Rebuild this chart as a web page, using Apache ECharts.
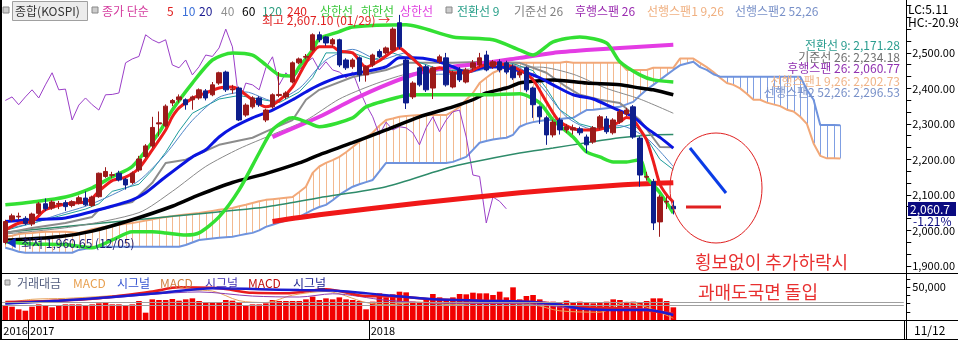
<!DOCTYPE html>
<html><head><meta charset="utf-8">
<script src="https://cdn.jsdelivr.net/npm/echarts@6/dist/echarts.min.js"></script>
<style>html,body{margin:0;padding:0;background:#fff}#c{width:958px;height:340px}</style>
</head><body><div id="c"></div>
<script>
// ---------- data (weekly KOSPI) ----------
// [open, close, low, high]
const candles = [
[1966,2025,1960.65,2030],[2030,2041,2025,2047],[2038,2040,2030,2050],[2034,2020,2015,2040],[2018,2046,2012,2050],
[2048,2075,2044,2080],[2075,2061,2055,2090],[2063,2080,2058,2085],[2074,2076,2060,2083],[2078,2067,2055,2085],
[2070,2081,2065,2085],[2077,2092,2073,2098],[2091,2072,2068,2110],[2070,2094,2066,2098],[2095,2161,2092,2163],
[2152,2166,2148,2178],[2155,2157,2148,2165],[2161,2142,2138,2168],[2144,2128,2115,2148],[2135,2161,2130,2166],
[2170,2201,2165,2210],[2208,2238,2204,2243],[2238,2290,2232,2320],[2300,2303,2265,2335],[2295,2350,2290,2355],
[2359,2366,2350,2370],[2368,2376,2360,2383],[2368,2354,2340,2372],[2368,2376,2340,2380],[2373,2396,2368,2400],
[2393,2373,2366,2398],[2382,2410,2378,2418],[2415,2444,2410,2447],[2446,2396,2390,2450],[2396,2398,2385,2410],
[2401,2311,2308,2405],[2325,2353,2320,2358],[2348,2373,2343,2378],[2373,2354,2348,2378],[2311,2339,2305,2343],
[2348,2382,2343,2386],[2380,2383,2375,2446],[2376,2387,2370,2392],[2418,2472,2414,2476],[2472,2483,2468,2487],
[2488,2490,2482,2497],[2508,2551,2504,2555],[2551,2537,2530,2560],[2545,2528,2520,2548],[2525,2537,2518,2542],
[2537,2466,2460,2540],[2480,2458,2452,2485],[2461,2480,2455,2485],[2486,2438,2419,2490],[2438,2461,2419,2465],
[2466,2494,2460,2498],[2504,2490,2485,2510],[2500,2514,2495,2518],[2508,2567,2504,2572],[2585,2517,2510,2607.1],
[2480,2359,2342,2485],[2376,2415,2370,2420],[2458,2410,2405,2462],[2461,2396,2390,2466],[2401,2458,2370,2462],
[2475,2489,2470,2495],[2486,2410,2405,2500],[2404,2444,2400,2450],[2452,2424,2418,2460],[2418,2452,2414,2458],
[2458,2472,2450,2480],[2466,2486,2460,2500],[2494,2452,2448,2506],[2461,2475,2455,2480],[2475,2452,2445,2482],
[2472,2446,2440,2478],[2461,2430,2424,2468],[2438,2446,2430,2452],[2458,2396,2390,2462],[2401,2354,2317,2405],
[2348,2320,2300,2352],[2317,2269,2241,2322],[2269,2305,2262,2312],[2311,2283,2270,2318],[2283,2292,2275,2300],
[2283,2289,2270,2298],[2286,2275,2268,2292],[2263,2241,2218,2270],[2249,2289,2244,2294],[2289,2320,2284,2325],
[2314,2278,2272,2322],[2275,2311,2270,2316],[2306,2334,2300,2340],[2328,2339,2322,2345],[2348,2263,2258,2353],
[2260,2156,2123,2265],[2150,2152,2140,2165],[2137,2021,2001,2145],[2024,2094,1982,2100],[2080,2082,2060,2096],
[2068,2060.7,2045,2082]
];
const tradeValue = [
22700,20200,16200,14100,20200,23700,21200,19200,21200,23700,
23700,23700,21700,23700,25300,26300,23700,23700,21700,23700,
28800,11100,31300,30300,30300,31800,29300,31300,32800,28800,
26300,26300,26300,30300,29300,26300,21700,23700,23700,25300,
30300,28800,28800,28800,28800,31300,35400,30300,32800,31300,
34300,31300,30300,28800,16200,27800,40400,34300,38900,42900,
41900,27800,26300,30300,39400,34300,31300,34300,39400,38900,
41400,40400,40400,37900,42900,34300,49500,31300,36400,37900,
31300,27800,27800,26300,29300,26300,27800,26300,25300,26300,
27800,31300,30300,26300,27800,26300,28800,32800,32800,28800,
19200];
// moving averages / bands as [weekIndex, value] readings
const ma5 = [[0,2001],[2,2020],[4,2025],[6,2058],[8,2070],[10,2077],[12,2080],[13,2090],[14,2110],[16,2140],[18,2150],[20,2175],[22,2227],[24,2283],[25,2320],[26,2345],[28,2372],[30,2387],[32,2401],[34,2404],[35,2396],[37,2368],[39,2348],[41,2366],[43,2404],[45,2472],[47,2517],[49,2517],[50,2505],[52,2500],[54,2460],[56,2478],[58,2505],[59,2514],[60,2500],[62,2466],[63,2446],[65,2458],[67,2444],[69,2444],[71,2461],[73,2470],[75,2466],[77,2452],[79,2424],[81,2362],[83,2306],[86,2283],[88,2283],[90,2290],[92,2306],[93,2318],[94,2312],[95,2285],[96,2255],[97,2195],[98,2130],[99,2100],[100,2080]];
const ma10 = [[0,2005],[4,2020],[8,2045],[12,2068],[16,2100],[20,2140],[24,2215],[28,2310],[32,2375],[36,2390],[40,2365],[44,2400],[48,2480],[52,2510],[56,2480],[60,2500],[64,2440],[68,2440],[72,2455],[76,2465],[80,2410],[84,2320],[88,2285],[92,2295],[96,2260],[100,2180]];
const ma20 = [[0,2025],[4,2030],[9,2035],[14,2058],[19,2086],[21,2106],[24,2151],[28,2207],[30,2227],[32,2263],[34,2289],[37,2317],[40,2339],[43,2368],[45,2390],[47,2410],[50,2432],[53,2444],[57,2461],[59,2486],[61,2486],[64,2480],[67,2461],[69,2446],[72,2461],[75,2458],[78,2444],[80,2430],[82,2410],[85,2382],[88,2370],[91,2345],[94,2320],[96,2288],[98,2262],[100,2232]];
const ma40 = [[0,1990],[10,2010],[20,2050],[25,2110],[30,2180],[35,2230],[40,2270],[45,2310],[50,2370],[55,2410],[60,2440],[65,2450],[70,2455],[75,2460],[80,2460],[85,2440],[90,2400],[95,2370],[100,2330]];
const ma60 = [[0,1972],[8,1982],[13,1998],[19,2030],[25,2068],[29,2100],[34,2135],[39,2160],[44,2190],[47,2213],[52,2247],[57,2283],[62,2320],[67,2348],[70,2368],[72,2387],[75,2401],[77,2415],[79,2420],[82,2424],[87,2415],[92,2410],[95,2401],[97,2396],[100,2382]];
const ma120 = [[0,1995],[24,2038],[39,2066],[47,2092],[57,2123],[67,2180],[77,2218],[82,2232],[87,2247],[92,2261],[97,2269],[100,2270]];
const ma240 = [[40,2025],[47,2044],[62,2077],[77,2106],[92,2128],[100,2134]];
const bbUpper = [[0,2072],[4,2080],[9,2094],[13,2120],[16,2151],[19,2180],[23,2275],[25,2339],[28,2415],[31,2480],[34,2500],[37,2494],[39,2466],[41,2438],[43,2435],[44,2461],[46,2508],[47,2540],[50,2560],[52,2573],[60,2579],[67,2545],[73,2537],[77,2508],[79,2494],[82,2531],[86,2545],[90,2528],[92,2475],[95,2438],[97,2424],[100,2418]];
const bbLower = [[0,1968],[4,1962],[9,1960],[13,1951],[16,1973],[19,1996],[22,1996],[24,1993],[27,1987],[29,1993],[32,2038],[35,2114],[38,2218],[40,2283],[42,2311],[43,2317],[45,2306],[47,2292],[52,2317],[54,2348],[59,2376],[61,2382],[67,2382],[72,2382],[77,2385],[80,2359],[82,2311],[85,2263],[87,2221],[89,2207],[91,2193],[93,2193],[95,2199],[96,2151],[98,2106],[100,2049]];
const envUpper = [[40,2263],[47,2320],[52,2368],[57,2410],[62,2444],[67,2461],[72,2472],[77,2486],[82,2500],[87,2508],[92,2514],[100,2523]];
const tenkan = [[0,2000],[4,2020],[8,2040],[12,2060],[14,2075],[16,2110],[20,2130],[22,2170],[24,2220],[26,2280],[28,2330],[32,2370],[35,2380],[38,2370],[41,2360],[44,2390],[46,2430],[48,2500],[52,2500],[55,2480],[58,2500],[61,2480],[64,2460],[67,2450],[70,2450],[73,2460],[76,2470],[79,2450],[81,2400],[83,2340],[86,2300],[89,2285],[92,2290],[94,2300],[96,2260],[98,2200],[100,2171.28]];
const kijun = [[0,1993],[4,2007],[9,2021],[13,2038],[14,2058],[19,2080],[22,2134],[24,2190],[27,2199],[32,2241],[37,2261],[39,2278],[43,2311],[45,2368],[47,2396],[52,2432],[57,2452],[60,2472],[62,2472],[67,2472],[72,2475],[77,2472],[81,2444],[84,2404],[86,2382],[89,2368],[92,2359],[95,2311],[98,2235],[100,2234.18]];
// lagging span, plotted from week 0
const lagging = [2366,2376,2354,2376,2396,2373,2410,2444,2396,2398,2311,2353,2373,2354,2339,2382,2383,2387,2472,2483,2490,2551,2537,2528,2537,2466,2458,2480,2438,2461,2494,2490,2514,2567,2517,2359,2415,2410,2396,2458,2489,2410,2444,2424,2452,2472,2486,2452,2475,2452,2446,2430,2446,2396,2354,2320,2269,2305,2283,2292,2289,2275,2241,2289,2320,2278,2311,2334,2339,2263,2156,2152,2021,2094,2082,2060.77];
// leading spans (weeks 0..125)
const span1 = [1982,1985,1990,1992,1993,1995,1996,1996,1996,1996,1995,1993,1998,2003,2007,2010,2013,2016,2019,2021,2024,2028,2031,2035,2038,2040,2043,2045,2047,2049,2052,2055,2058,2060,2063,2068,2072,2077,2082,2086,2088,2090,2092,2094,2108,2123,2162,2180,2190,2198,2207,2220,2235,2250,2262,2275,2295,2311,2315,2320,2322,2324,2325,2325,2325,2325,2325,2335,2348,2368,2387,2415,2430,2444,2452,2461,2466,2472,2472,2472,2472,2472,2472,2472,2475,2472,2472,2472,2472,2472,2472,2472,2472,2452,2452,2452,2452,2458,2458,2458,2458,2484,2484,2484,2472,2460,2446,2430,2415,2410,2400,2385,2368,2368,2360,2355,2350,2340,2335,2320,2300,2245,2210,2203,2203,2202.73];
const span2 = [1951,1946,1940,1937,1937,1937,1937,1937,1937,1937,1937,1945,1948,1951,1954,1954,1954,1954,1954,1954,1954,1954,1954,1954,1954,1954,1954,1959,1966,1973,1975,1977,1979,1981,1982,1986,1990,1993,2000,2010,2016,2022,2028,2033,2038,2048,2058,2066,2072,2085,2100,2112,2123,2130,2136,2142,2166,2190,2190,2190,2190,2190,2190,2190,2190,2190,2190,2193,2200,2207,2227,2247,2252,2256,2259,2261,2269,2292,2300,2305,2308,2311,2311,2314,2316,2317,2328,2339,2340,2342,2344,2346,2348,2355,2362,2380,2396,2410,2424,2438,2452,2465,2470,2475,2460,2452,2440,2433,2433,2433,2433,2433,2433,2433,2433,2433,2433,2433,2433,2433,2396,2368,2297,2297,2297,2296.53];
// MACD panel (relative panel units 0..100)
const macdSignalNavy = [[0,36],[8,42],[16,50],[24,60],[31,69],[38,67],[44,65],[49,64],[57,54],[64,45],[71,42],[79,39],[83,33],[86,25],[90,22],[96,22],[100,11]];
const macdRed = [[0,39],[12,45],[22,62],[26,71],[32,69],[37,59],[42,58],[48,67],[54,52],[59,51],[64,45],[71,42],[79,39],[86,28],[94,24],[100,13]];
const macdOrange = [[0,37],[4,45],[9,47],[14,51],[22,59],[28,65],[31,63],[35,42],[39,38],[43,54],[48,62],[54,38],[57,33],[62,39],[67,33],[71,37],[79,33],[83,20],[89,17],[93,39],[96,28],[100,4]];
const macdSignalPurple = [[0,35],[14,46],[29,61],[37,52],[44,50],[49,57],[57,43],[64,37],[71,36],[79,35],[86,24],[94,26],[100,15]];
const macdZeroLines = [38.5, 32.6];
// axis ticks / labels
const priceLabels = [1900,2000,2100,2200,2300,2400,2500];
const volumeLabels = [50000];
const yearLabels = {0:'2016', 4:'2017', 55:'2018'};
const lastDateLabel = '11/12';
const lastChangePct = -1.21;
const highLabel = {value:2607.10, date:'01/29'};
const lowLabel = {value:1960.65, date:'12/05'};

// ---------- chart ----------
const N = 135;
const cats = Array.from({length:N}, (_, i) => String(i));
const FONT = "'Noto Sans CJK KR','Noto Sans',sans-serif";
const fmt = (v, d) => v.toLocaleString('en-US', {minimumFractionDigits:d, maximumFractionDigits:d});
const priceTicks = [];
for (let v = 1900; v <= 2640; v += 100/3) priceTicks.push(v);

function line(data, color, width, z, smooth) {
  return {type:'line', xAxisIndex:0, yAxisIndex:0, data, symbol:'none', silent:true,
    smooth: smooth === undefined ? 0.25 : smooth, lineStyle:{color, width}, z};
}
function subLine(data, color, width) {
  return {type:'line', xAxisIndex:1, yAxisIndex:2, data, symbol:'none', silent:true, smooth:0.3,
    lineStyle:{color, width}, z:4};
}
const cloud = span1.map((v, i) => [i, v, span2[i]]);
const last = candles[candles.length-1][1];

const txt = (text, x, y, color, size, extra) => ({type:'text', silent:true, z:50,
  style:Object.assign({text, x, y, fill:color, font:`${size||12}px ${FONT}`, verticalAlign:'middle', align:'left'}, extra||{})});
const hline = (x1, y1, x2, y2, color, w) => ({type:'line', silent:true, z:40,
  shape:{x1, y1, x2, y2}, style:{stroke:color, lineWidth:w||1}});

const chart = echarts.init(document.getElementById('c'), null, {renderer:'canvas'});
chart.setOption({
  animation:false,
  backgroundColor:'#fff',
  grid:[
    {left:2, width:901.8, top:0, height:273},
    {left:2, width:901.8, top:274, height:46}
  ],
  xAxis:[
    {type:'category', data:cats, gridIndex:0, boundaryGap:true, show:false},
    {type:'category', data:cats, gridIndex:1, boundaryGap:true,
      axisLine:{show:false},
      axisTick:{show:true, length:19, interval:(i)=> i===4 || i===55, lineStyle:{color:'#000'}},
      axisLabel:{interval:(i)=> yearLabels[i] !== undefined, formatter:(v, i)=> yearLabels[i] || '',
        align:'left', margin:5, fontSize:11, color:'#000', fontFamily:FONT,
        padding:[0,0,0,-2]},
      splitLine:{show:false}}
  ],
  yAxis:[
    {type:'value', gridIndex:0, position:'right', offset:2.5, min:1880, max:2649, scale:true,
      axisLine:{show:false}, splitLine:{show:false},
      axisTick:{show:true, length:5, customValues:priceTicks, lineStyle:{color:'#000'}},
      axisLabel:{customValues:priceLabels, formatter:(v)=>fmt(v,2), margin:6, fontSize:11, color:'#000', fontFamily:FONT}},
    {type:'value', gridIndex:1, position:'right', offset:2.5, min:0, max:69700,
      axisLine:{show:false}, splitLine:{show:false},
      axisTick:{show:true, length:4, customValues:[12500,25000,37500,50000,62500], lineStyle:{color:'#000'}},
      axisLabel:{customValues:volumeLabels, formatter:(v)=>fmt(v,0), margin:6, fontSize:11, color:'#000', fontFamily:FONT}},
    {type:'value', gridIndex:1, min:0, max:100, show:false}
  ],
  series:[
    {type:'custom', xAxisIndex:0, yAxisIndex:0, data:cloud, silent:true, z:1,
      encode:{x:0, y:[1,2]},
      renderItem:(params, api)=>{
        const a = api.coord([api.value(0), api.value(1)]);
        const b = api.coord([api.value(0), api.value(2)]);
        const up = api.value(1) >= api.value(2);
        const x = Math.round(a[0]) + 0.5;
        return {type:'line', shape:{x1:x, y1:a[1], x2:x, y2:b[1]},
          style:{stroke: up ? '#F3B98F' : '#7F9FE3', lineWidth:1}};
      }},
    line(span1.map((v,i)=>[i,v]), '#F2A878', 2, 2, false),
    line(span2.map((v,i)=>[i,v]), '#6F93DD', 2, 2, false),
    line(lagging.map((v,i)=>[i,v]), '#9B3FC8', 1, 3, false),
    line(ma240, '#F01818', 5, 3),
    line(ma120, '#2E8B6A', 1.5, 3),
    line(ma40, '#8A8A8A', 1, 3),
    line(kijun, '#8C8C8C', 2, 3, false),
    line(tenkan, '#1E9C9C', 1, 3, false),
    line(ma10, '#4E86C8', 1, 3),
    line(ma60, '#000000', 3.5, 3),
    line(envUpper, '#E43CE4', 4, 3),
    line(bbUpper, '#33E033', 3.5, 3),
    line(bbLower, '#33E033', 3.5, 3),
    line(ma20, '#0A14E0', 3, 3),
    line(ma5, '#EC1C1C', 3, 4),
    {type:'candlestick', xAxisIndex:0, yAxisIndex:0, data:candles, barWidth:5, silent:true, z:6,
      itemStyle:{color:'#9C1A1A', color0:'#0E1E8C', borderColor:'#9C1A1A', borderColor0:'#0E1E8C', borderWidth:1}},
    {type:'bar', xAxisIndex:1, yAxisIndex:1, data:tradeValue, barWidth:5.6, silent:true, z:2,
      itemStyle:{color:'#F20000'}},
    Object.assign(subLine(macdOrange, '#E7A25A', 1), {markLine:{silent:true, symbol:'none', label:{show:false},
      lineStyle:{color:'#A0A0A0', width:1, type:'solid'}, data:macdZeroLines.map(v=>({yAxis:v}))}}),
    subLine(macdSignalPurple, '#8A3CB0', 1),
    subLine(macdRed, '#E81C1C', 2.5),
    subLine(macdSignalNavy, '#1C1CD0', 2.5)
  ],
  graphic:[
    // frame
    hline(1, 0, 1, 340, '#000', 2),
    hline(0, 273.5, 958, 273.5, '#000'),
    hline(0, 320.5, 958, 320.5, '#000'),
    hline(0, 339.5, 958, 339.5, '#000'),
    hline(906.5, 0, 906.5, 340, '#000'),
    // top legend
    {type:'rect', silent:true, z:50, shape:{x:3, y:7, width:6, height:6}, style:{fill:'#ccc', stroke:'#888'}},
    {type:'rect', silent:true, z:50, shape:{x:12.5, y:1.5, width:75, height:19}, style:{fill:'#ececec', stroke:'#a0a0a0'}},
    txt('종합(KOSPI)', 15, 11, '#333'),
    {type:'rect', silent:true, z:50, shape:{x:92, y:7, width:6, height:6}, style:{fill:'#ccc', stroke:'#888'}},
    txt('종가 단순', 102, 11, '#D43C9E'),
    txt('5', 167, 11, '#E02020'), txt('10', 182, 11, '#3A6FD8'), txt('20', 199, 11, '#1A1A90'),
    txt('40', 221, 11, '#909090'), txt('60', 242, 11, '#000'), txt('120', 262, 11, '#2E9E80'),
    txt('240', 287, 11, '#E02020'),
    txt('상한선', 320, 11, '#3CC83C'), txt('하한선', 361, 11, '#3CC83C'), txt('상한선', 400, 11, '#E040E0'),
    {type:'rect', silent:true, z:50, shape:{x:446, y:7, width:6, height:6}, style:{fill:'#ccc', stroke:'#888'}},
    txt('전환선 9', 457, 11, '#2AA08A'), txt('기준선 26', 514, 11, '#808080'),
    txt('후행스팬 26', 575, 11, '#9A2AB0'), txt('선행스팬1 9,26', 647, 11, '#F0B080'),
    txt('선행스팬2 52,26', 735, 11, '#7890C8'),
    txt('LC:5.11', 908, 9, '#000', 12), txt('HC:-20.98', 908, 22, '#000', 12),
    // high / low annotations
    txt(`최고 ${fmt(highLabel.value,2)} (${highLabel.date}) →`, 262, 20, '#E02020'),
    txt('◀', 6, 243, '#1030C0', 11),
    txt(`최저 ${fmt(lowLabel.value,2)} (${lowLabel.date})`, 21, 243, '#1A1A70'),
    // ichimoku values
    txt(`전환선 9: ${fmt(tenkan[tenkan.length-1][1],2)}`, 900, 45, '#2A9D8F', 12, {align:'right'}),
    txt(`기준선 26: ${fmt(kijun[kijun.length-1][1],2)}`, 900, 57, '#707070', 12, {align:'right'}),
    txt(`후행스팬 26: ${fmt(lagging[lagging.length-1],2)}`, 900, 68.5, '#9030B0', 12, {align:'right'}),
    txt(`선행스팬1 9,26: ${fmt(span1[span1.length-1],2)}`, 900, 81, '#F0B488', 12, {align:'right'}),
    txt(`선행스팬2 52,26: ${fmt(span2[span2.length-1],2)}`, 900, 92.5, '#7890C8', 12, {align:'right'}),
    // last price box
    {type:'rect', silent:true, z:50, shape:{x:908, y:202, width:48, height:14}, style:{fill:'#0A0A80'}},
    txt(fmt(last,1), 910, 209, '#fff', 12),
    txt(`${lastChangePct.toFixed(2)}%`, 913, 221, '#0A0A80', 12),
    // commentary drawing
    {type:'ellipse', silent:true, z:45, shape:{cx:716, cy:188, rx:46, ry:55}, style:{fill:'none', stroke:'#E02020', lineWidth:1}},
    hline(690, 148, 726, 193, '#0A3CE6', 3),
    hline(686, 207, 721, 207, '#E02020', 3),
    txt('횡보없이 추가하락시', 695, 262, '#E83030', 18),
    txt('과매도국면 돌입', 698, 292, '#E83030', 18),
    // sub legend
    {type:'rect', silent:true, z:50, shape:{x:5, y:280, width:5, height:5}, style:{fill:'#ccc', stroke:'#888'}},
    txt('거래대금', 17, 283, '#556080'), txt('MACD', 73, 283, '#E8A050'), txt('시그널', 117, 283, '#3050D0'),
    txt('MACD', 160, 283, '#D08040'), txt('시그널', 205, 283, '#4030B0'),
    txt('MACD', 248, 283, '#C01010'), txt('시그널', 293, 283, '#1A2090'),
    // date at right
    txt(lastDateLabel, 914, 330, '#000', 12)
  ]
});
</script>
</body></html>
